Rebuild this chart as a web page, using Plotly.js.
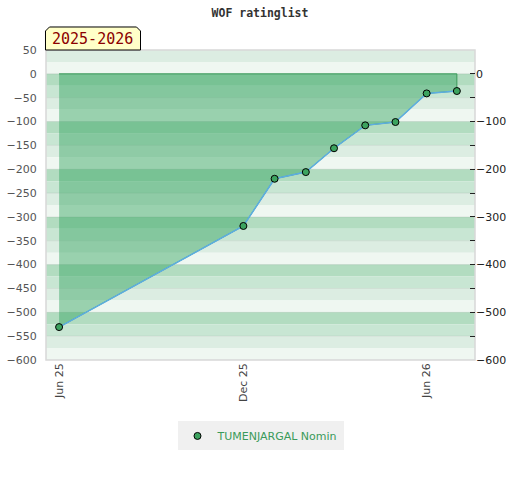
<!DOCTYPE html>
<html>
<head>
<meta charset="utf-8">
<script src="https://cdn.plot.ly/plotly-3.0.1.min.js"></script>
<style>html,body{margin:0;padding:0;background:#fff;}#chart{width:520px;height:480px;}</style>
</head>
<body>
<div id="chart"></div>
<script>
var dates = ['2025-06-01','2025-12-01','2026-01-01','2026-02-01','2026-03-01','2026-04-01','2026-05-01','2026-06-01','2026-07-01'];
var ratings = [-531, -319, -220, -206, -156, -108, -101, -41, -36];
var playerName = 'TUMENJARGAL Nomin';
var seasonLabel = '2025-2026';
var xTickVals = ['2025-06-01','2025-12-01','2026-06-01'];
var xTickText = ['Jun 25','Dec 25','Jun 26'];

var bandColors = ['#b2dcc0','#c8e6d3','#dcede2','#eff7f1'];
var shapes = [];
for (var t = 50; t > -600; t -= 25) {
  var k = (((-t) / 25) % 4 + 4) % 4;
  shapes.push({type:'rect', xref:'paper', yref:'y', x0:0, x1:1, y0:t-25, y1:t,
    fillcolor: bandColors[k], line:{width:0}, layer:'below'});
}
for (var g = 0; g >= -550; g -= 50) {
  shapes.push({type:'line', xref:'paper', yref:'y', x0:0, x1:1, y0:g, y1:g,
    line:{color:'rgba(0,0,0,0.07)', width:1}, layer:'below'});
}
shapes.push({type:'rect', xref:'paper', yref:'paper', x0:0, x1:1, y0:0, y1:1,
  line:{color:'#d8d8d8', width:1.5}, layer:'below'});
shapes.push({type:'path', xref:'paper', yref:'paper',
  path:'M -0.0012,1.0 L -0.0012,1.0613 L 0.0081,1.0742 L 0.2110,1.0742 L 0.2203,1.0613 L 0.2203,1.0 Z',
  fillcolor:'#ffffc8', line:{color:'#000', width:1}, layer:'above'});

var fillX = dates.concat([dates[dates.length-1], dates[0]]);
var fillY = ratings.concat([0, 0]);
var markerStyle = {color:'#3ca35f', size:7, line:{color:'#000', width:1}};

var traces = [
  {x: fillX, y: fillY, type:'scatter', mode:'lines', fill:'toself',
   fillcolor:'rgba(52,163,96,0.46)', line:{color:'#3a9a5a', width:1},
   hoverinfo:'skip', showlegend:false},
  {x: dates, y: ratings, type:'scatter', mode:'lines+markers', name: playerName,
   line:{color:'#5dade2', width:1.5}, marker: markerStyle, showlegend:false, legendgroup:'p'},
  {x: [null], y: [null], type:'scatter', mode:'markers', name: playerName,
   marker: markerStyle, showlegend:true, legendgroup:'p'},
  {x: dates, y: ratings, yaxis:'y2', type:'scatter', mode:'none', showlegend:false, hoverinfo:'skip'}
];

var layout = {
  width:520, height:480,
  margin:{l:46, r:45, t:50, b:120},
  paper_bgcolor:'#fff', plot_bgcolor:'#fff',
  title:{text:'WOF ratinglist', x:0.5, xanchor:'center', y:0.972, yanchor:'middle',
    font:{family:'DejaVu Sans Mono', size:11.5, color:'#333', weight:'bold'}},
  font:{family:'DejaVu Sans', size:11, color:'#555'},
  xaxis:{type:'date', range:['2025-05-19','2026-07-19'], tickvals:xTickVals, ticktext:xTickText,
    tickangle:-90, showgrid:false, zeroline:false, showline:false, ticks:'',
    tickfont:{family:'DejaVu Sans', size:11, color:'#444'}},
  yaxis:{range:[-600,50], dtick:50, tick0:0, showgrid:false, zeroline:false, showline:false,
    ticks:'outside', ticklen:6, tickcolor:'rgba(0,0,0,0)',
    tickfont:{family:'DejaVu Sans', size:11, color:'#555'}},
  yaxis2:{overlaying:'y', side:'right', range:[-600,50], dtick:100, tick0:0, showgrid:false,
    zeroline:false, showline:false, ticks:'inside', ticklen:5, tickcolor:'#222',
    minor:{dtick:50, tick0:0, ticks:'inside', ticklen:5, tickcolor:'#222'},
    tickfont:{family:'DejaVu Sans', size:11, color:'#222'}},
  showlegend:true,
  legend:{orientation:'h', x:0.5, xanchor:'center', y:-0.245, yanchor:'middle',
    bgcolor:'#f0f0f0', font:{family:'DejaVu Sans', size:11, color:'#3a9a5a'}},
  shapes: shapes,
  annotations:[{xref:'paper', yref:'paper', x:0.1095, y:1.037, xanchor:'center', yanchor:'middle',
    text: seasonLabel, showarrow:false,
    font:{family:'DejaVu Sans Mono', size:15, color:'#8b0000'}}]
};

Plotly.newPlot('chart', traces, layout, {displayModeBar:false, staticPlot:true});
</script>
</body>
</html>
